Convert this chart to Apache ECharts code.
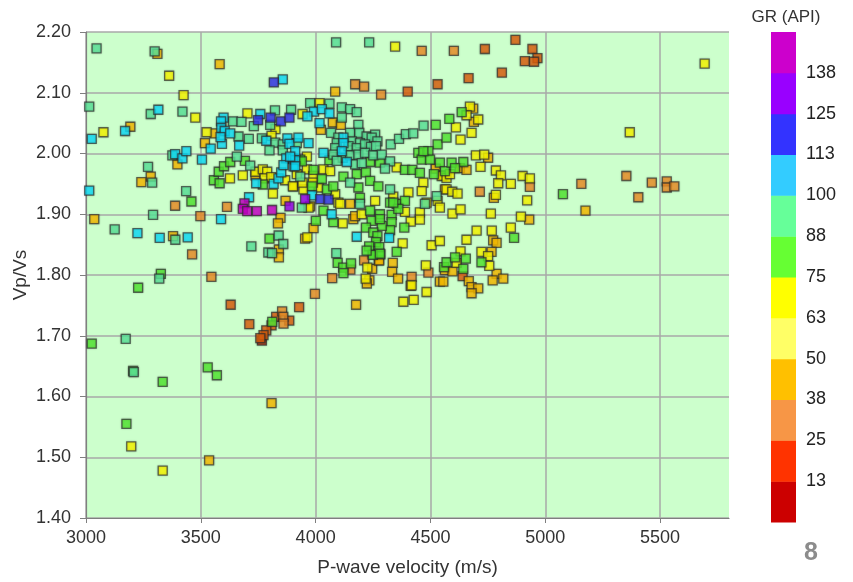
<!DOCTYPE html>
<html>
<head>
<meta charset="utf-8">
<script src="https://cdn.jsdelivr.net/npm/echarts@6/dist/echarts.min.js"></script>
<style>
  html, body { margin: 0; padding: 0; background: #ffffff; }
  #chart { width: 853px; height: 582px; }
</style>
</head>
<body>
<div id="chart"></div>
<script>
// Well-log crossplot: P-wave velocity (m/s) vs Vp/Vs, coloured by gamma ray (API).
// Samples are grouped by GR class; each pair is [P-wave velocity, Vp/Vs].

const grClassValue = { darkRed: 6, red: 19, orange: 31, gold: 44, yellow: 69, green: 81, mint: 94, cyan: 106, blue: 119, purple: 131, magenta: 144 };

const samplesDarkRed = [[3766, 1.692]];

const samplesRed = [
  [3630, 1.751], [3711, 1.719], [3928, 1.747], [3828, 1.731], [3885, 1.725], [3808, 1.717], [3785, 1.709],
  [3773, 1.701], [3759, 1.696], [4401, 2.102], [4640, 1.798], [4737, 2.172], [4870, 2.187], [4944, 2.172],
  [4966, 2.157], [4911, 2.152], [4951, 2.151], [4811, 2.133], [4666, 2.124], [4531, 2.114]
];

const samplesOrange = [
  [3388, 1.914], [3498, 1.897], [3462, 1.834], [3614, 1.912], [3546, 1.797], [3997, 1.769], [4072, 1.795],
  [3854, 1.740], [3859, 1.731], [3860, 1.720], [4151, 1.809], [4211, 1.824], [4418, 1.797], [4285, 2.097],
  [4491, 1.804], [4933, 1.945], [4715, 1.937], [5157, 1.950], [4462, 2.169], [4602, 2.169], [4172, 2.114],
  [4211, 2.110], [5353, 1.963], [5405, 1.928], [5464, 1.952], [5529, 1.954], [5529, 1.944], [5562, 1.946]
];

const samplesGold = [
  [3311, 2.164], [3582, 2.147], [3193, 2.044], [3560, 2.033], [3518, 2.017], [3398, 1.982], [3282, 1.962],
  [3241, 1.953], [3036, 1.892], [3379, 1.864], [3869, 1.922], [3847, 1.894], [3836, 1.885], [3840, 1.842],
  [3840, 1.829], [3738, 1.964], [4176, 1.751], [3808, 1.589], [3536, 1.495], [4246, 1.810], [4234, 1.791],
  [4223, 1.786], [4275, 1.824], [4336, 1.820], [4333, 1.805], [4359, 1.794], [4085, 2.102], [4075, 2.051],
  [4110, 2.047], [4023, 2.039], [4523, 1.975], [3903, 1.946], [4150, 1.917], [4563, 1.941], [3976, 1.913],
  [4277, 1.824], [4414, 1.782], [4541, 1.789], [4563, 1.808], [3991, 1.877], [3954, 1.860], [4164, 1.892],
  [4751, 1.993], [4776, 1.927], [4930, 1.891], [4773, 1.857], [4788, 1.853], [4766, 1.838], [4596, 1.806],
  [4667, 1.790], [4788, 1.802], [4771, 1.791], [4817, 1.794], [4679, 1.780], [4708, 1.778], [4679, 1.770],
  [5175, 1.906], [4556, 1.789], [4628, 1.976], [4657, 1.973], [4556, 1.964], [4686, 2.074], [4689, 2.052],
  [4172, 1.897]
];

const samplesYellow = [
  [3362, 2.128], [3425, 2.096], [3476, 2.059], [3076, 2.035], [3525, 2.035], [3703, 2.066], [3825, 2.040],
  [3808, 2.029], [3814, 1.934], [3627, 1.959], [3683, 1.964], [3738, 1.970], [3770, 1.974], [3789, 1.970],
  [3778, 1.959], [3807, 1.961], [3867, 1.956], [3901, 1.946], [3197, 1.518], [3334, 1.478], [4225, 1.812],
  [4218, 1.794], [4418, 1.783], [4382, 1.756], [4427, 1.759], [4017, 2.083], [3943, 2.065], [4353, 1.977],
  [4549, 1.963], [4570, 1.960], [3962, 1.995], [3962, 1.974], [3918, 1.966], [4034, 1.974], [4063, 1.971],
  [4013, 1.944], [3947, 1.941], [4085, 1.933], [4099, 1.919], [4259, 1.922], [4338, 1.929], [4404, 1.936],
  [4469, 1.952], [4462, 1.938], [4483, 1.919], [4107, 1.917], [4201, 1.900], [4389, 1.904], [4531, 1.922],
  [4541, 1.911], [4454, 1.903], [4454, 1.891], [4414, 1.888], [4379, 1.852], [4480, 1.816], [4483, 1.772],
  [4505, 1.849], [4541, 1.856], [3964, 1.862], [4118, 1.885], [4698, 1.997], [4734, 1.998], [4718, 1.978],
  [4785, 1.972], [4807, 1.964], [4795, 1.951], [4850, 1.950], [4901, 1.963], [4933, 1.959], [4921, 1.923],
  [4785, 1.932], [4894, 1.896], [4763, 1.901], [4850, 1.878], [4767, 1.873], [4701, 1.873], [4657, 1.858],
  [4722, 1.838], [4751, 1.831], [4756, 1.815], [4631, 1.839], [4614, 1.820], [4570, 1.941], [4595, 1.937],
  [4618, 1.934], [4596, 1.901], [4631, 1.908], [4585, 1.966], [5694, 2.148], [5368, 2.035], [4672, 2.077],
  [4657, 2.063], [4708, 2.056], [4611, 2.043], [4679, 2.034], [4631, 2.023], [3990, 1.963], [3943, 1.952],
  [3988, 1.952], [3969, 1.911], [4346, 2.176]
];

const samplesGreen = [
  [3459, 1.921], [3799, 1.860], [3557, 1.956], [3582, 1.951], [3578, 1.970], [3601, 1.979], [3628, 1.986],
  [3692, 1.988], [3770, 1.949], [3326, 1.802], [3227, 1.779], [3811, 1.723], [3025, 1.687], [3205, 1.642],
  [3334, 1.624], [3530, 1.648], [3570, 1.635], [3176, 1.555], [4096, 1.820], [4120, 1.812], [4154, 1.819],
  [4121, 1.803], [4249, 1.834], [4282, 1.834], [4353, 1.838], [4523, 2.047], [4531, 2.015], [4570, 2.026],
  [4060, 1.989], [4237, 1.986], [4280, 1.985], [4389, 1.973], [4421, 1.973], [4454, 1.968], [4447, 2.001],
  [4462, 1.990], [4491, 2.004], [4498, 1.990], [4541, 1.985], [4563, 1.971], [4515, 1.966], [3933, 1.990],
  [3991, 1.973], [4121, 1.962], [4179, 1.966], [4219, 1.969], [4237, 1.955], [4186, 1.944], [4193, 1.927],
  [4027, 1.958], [3984, 1.946], [4049, 1.941], [4077, 1.946], [4353, 1.917], [4389, 1.922], [4324, 1.919],
  [4273, 1.946], [4034, 1.906], [4237, 1.906], [4280, 1.900], [4331, 1.899], [4360, 1.909], [4338, 1.919],
  [4386, 1.878], [4331, 1.887], [4324, 1.874], [4288, 1.881], [4244, 1.889], [4280, 1.892], [4219, 1.878],
  [4251, 1.870], [4269, 1.864], [4263, 1.854], [4233, 1.847], [4277, 1.846], [4249, 1.833], [4280, 1.835],
  [4222, 1.840], [4559, 1.813], [4570, 1.821], [4001, 1.889], [4077, 1.887], [4864, 1.861], [4722, 1.821],
  [4654, 1.827], [4607, 1.829], [4643, 1.810], [5077, 1.933], [4592, 1.985], [4643, 1.986], [4607, 1.976],
  [4636, 2.068], [4582, 2.057], [3940, 1.987], [4469, 2.004]
];

const samplesMint = [
  [3046, 2.173], [3299, 2.168], [3014, 2.077], [3282, 2.065], [3420, 2.069], [3640, 2.053], [3677, 2.052],
  [3664, 2.028], [3709, 2.024], [3731, 2.045], [3823, 2.071], [3802, 2.047], [3893, 2.072], [3766, 2.025],
  [3824, 2.018], [3857, 2.015], [3799, 2.005], [3857, 2.005], [3376, 1.997], [3270, 1.978], [3288, 1.952],
  [3436, 1.938], [3292, 1.899], [3125, 1.875], [3389, 1.858], [3839, 1.865], [3859, 1.851], [3720, 1.847],
  [3794, 1.837], [3810, 1.836], [3657, 1.995], [3715, 1.980], [3319, 1.794], [3173, 1.695], [3208, 1.640],
  [4090, 1.836], [3976, 2.083], [4060, 2.082], [4114, 2.076], [4150, 2.073], [4179, 2.068], [4114, 2.059],
  [4186, 2.047], [4067, 2.034], [4150, 2.034], [4190, 2.034], [4222, 2.028], [4259, 2.031], [4099, 2.026],
  [4092, 2.017], [4157, 2.020], [4193, 2.017], [4244, 2.026], [4269, 2.020], [4085, 2.009], [4143, 2.012],
  [4179, 2.009], [4215, 2.015], [4241, 2.011], [4263, 2.012], [4327, 2.015], [4363, 2.024], [4393, 2.032],
  [4425, 2.033], [4470, 2.046], [4077, 1.998], [4118, 1.993], [4150, 1.997], [4186, 1.998], [4215, 2.001],
  [4251, 1.997], [4288, 1.998], [4324, 1.987], [4092, 1.988], [4172, 1.982], [4201, 1.984], [4302, 1.975],
  [3933, 1.962], [4150, 1.952], [4324, 1.941], [4527, 1.930], [3940, 1.911], [4193, 1.917], [4476, 1.917],
  [3918, 2.017], [4089, 2.183], [4233, 2.183]
];

const samplesCyan = [
  [3857, 2.122], [3315, 2.072], [3025, 2.024], [3170, 2.037], [3543, 2.008], [3592, 2.016], [3599, 2.059],
  [3588, 2.053], [3589, 2.042], [3604, 2.037], [3586, 2.027], [3628, 2.033], [3667, 2.013], [3759, 2.065],
  [3785, 2.021], [3877, 2.025], [3886, 2.016], [3872, 1.992], [3901, 1.991], [3388, 1.999], [3420, 1.992],
  [3437, 2.004], [3505, 1.990], [3014, 1.939], [3224, 1.869], [3321, 1.861], [3443, 1.862], [3588, 1.892],
  [3710, 1.928], [3741, 1.951], [3817, 1.950], [3838, 1.959], [3850, 1.969], [3860, 1.981], [3904, 1.979],
  [3993, 2.069], [4027, 2.073], [4060, 2.066], [3964, 2.061], [4017, 2.050], [4121, 2.026], [4121, 2.017],
  [4114, 2.004], [4034, 2.001], [4136, 1.986], [3911, 1.990], [3911, 1.979], [3984, 1.931], [4070, 1.900],
  [4320, 1.861], [4179, 1.863], [3925, 2.026], [3969, 2.017], [3911, 2.004], [3889, 1.995]
];

const samplesBlue = [[3818, 2.117], [3749, 2.055], [3804, 2.059], [3849, 2.053], [3886, 2.059], [4020, 1.925], [4056, 1.924]];
const samplesPurple = [[3886, 1.913], [3954, 1.925]];
const samplesMagenta = [[3690, 1.918], [3683, 1.909], [3702, 1.905], [3744, 1.905], [3810, 1.907]];

// GR colour classes (API), bottom to top of the key
const grBreaks = [0, 12.5, 25, 37.5, 50, 62.5, 75, 87.5, 100, 112.5, 125, 137.5, 150];
const grTickLabels = ['13', '25', '38', '50', '63', '75', '88', '100', '113', '125', '138'];
const keyColors = ['#CC0000', '#FF3300', '#F79646', '#FFC000', '#FFFF66', '#FFFF00', '#66FF33', '#66FF99', '#33CCFF', '#3333FF', '#9900FF', '#CC00CC'];
const markerColors = ['#B8300C', '#E2620E', '#F39228', '#FFC000', '#FFFF66', '#FFFF00', '#55EE33', '#5EEA9E', '#10E4FF', '#3333EE', '#9900EE', '#CC00CC'];

const groups = [
  [samplesDarkRed, grClassValue.darkRed], [samplesRed, grClassValue.red], [samplesOrange, grClassValue.orange],
  [samplesGold, grClassValue.gold], [samplesYellow, grClassValue.yellow], [samplesGreen, grClassValue.green],
  [samplesMint, grClassValue.mint], [samplesCyan, grClassValue.cyan], [samplesBlue, grClassValue.blue],
  [samplesPurple, grClassValue.purple], [samplesMagenta, grClassValue.magenta]
];
const points = [];
groups.forEach(([list, gr]) => list.forEach(([vp, ratio]) => points.push([vp, ratio, gr])));

const pieces = keyColors.map((_, i) => ({ gte: grBreaks[i], lt: grBreaks[i + 1], color: markerColors[i] }));

const fontFamily = 'Liberation Sans, Arial, sans-serif';

// colour key drawn beside the plot
const keyX = 771, keyW = 25, keyTop = 32, keyBottom = 522;
const segH = (keyBottom - keyTop) / keyColors.length;
const keyGraphics = [];
keyColors.forEach((c, i) => {
  keyGraphics.push({
    type: 'rect', silent: true,
    shape: { x: keyX, y: keyBottom - (i + 1) * segH, width: keyW, height: segH + 0.5 },
    style: { fill: c }
  });
});
grTickLabels.forEach((t, i) => {
  keyGraphics.push({
    type: 'text', silent: true,
    x: keyX + keyW + 10, y: keyBottom - (i + 1) * segH,
    style: { text: t, fontFamily: fontFamily, fontSize: 18, fill: '#222', verticalAlign: 'middle' }
  });
});
keyGraphics.push({
  type: 'text', silent: true, x: 786, y: 17,
  style: { text: 'GR (API)', fontFamily: fontFamily, fontSize: 17, fill: '#333', align: 'center', verticalAlign: 'middle' }
});
keyGraphics.push({
  type: 'text', silent: true, x: 811, y: 553,
  style: { text: '8', fontFamily: fontFamily, fontSize: 25, fontWeight: 'bold', fill: '#8C8C8C', align: 'center', verticalAlign: 'middle' }
});

const chart = echarts.init(document.getElementById('chart'), null, { renderer: 'canvas' });
const labelFont = { fontFamily: fontFamily, fontSize: 18, color: '#333' };

chart.setOption({
  animation: false,
  backgroundColor: '#ffffff',
  grid: { left: 86, right: 124, top: 32, bottom: 61, show: true, backgroundColor: '#CCFFCC', borderWidth: 0 },
  xAxis: {
    type: 'value', min: 3000, max: 5800, interval: 500,
    name: 'P-wave velocity (m/s)', nameLocation: 'middle', nameGap: 40, nameMoveOverlap: false,
    nameTextStyle: { fontFamily: fontFamily, fontSize: 19, color: '#333' },
    axisLine: { show: true, lineStyle: { color: '#7f7f7f', width: 1.2 } },
    axisTick: { show: true, inside: false, length: 5, lineStyle: { color: '#7f7f7f' } },
    axisLabel: Object.assign({ margin: 11, showMaxLabel: false, formatter: v => String(v) }, labelFont),
    splitLine: { show: true, showMaxLine: false, lineStyle: { color: '#A8A8A8', width: 1.5 } }
  },
  yAxis: {
    type: 'value', min: 1.4, max: 2.2, interval: 0.1,
    name: 'Vp/Vs', nameLocation: 'middle', nameGap: 56, nameRotate: 90, nameMoveOverlap: false,
    nameTextStyle: { fontFamily: fontFamily, fontSize: 19, color: '#333' },
    axisLine: { show: true, lineStyle: { color: '#7f7f7f', width: 1.2 } },
    axisTick: { show: true, inside: false, length: 6, lineStyle: { color: '#7f7f7f' } },
    axisLabel: Object.assign({ margin: 15, formatter: v => v.toFixed(2) }, labelFont),
    splitLine: { show: true, lineStyle: { color: '#A8A8A8', width: 1.5 } }
  },
  visualMap: { type: 'piecewise', show: false, dimension: 2, pieces: pieces },
  series: [{
    type: 'scatter',
    data: points,
    symbol: 'rect',
    symbolSize: 9,
    itemStyle: { borderColor: 'rgba(45,45,45,0.85)', borderWidth: 1.3, shadowColor: 'rgba(0,0,0,0.3)', shadowBlur: 2 }
  }],
  graphic: keyGraphics
});
</script>
</body>
</html>
